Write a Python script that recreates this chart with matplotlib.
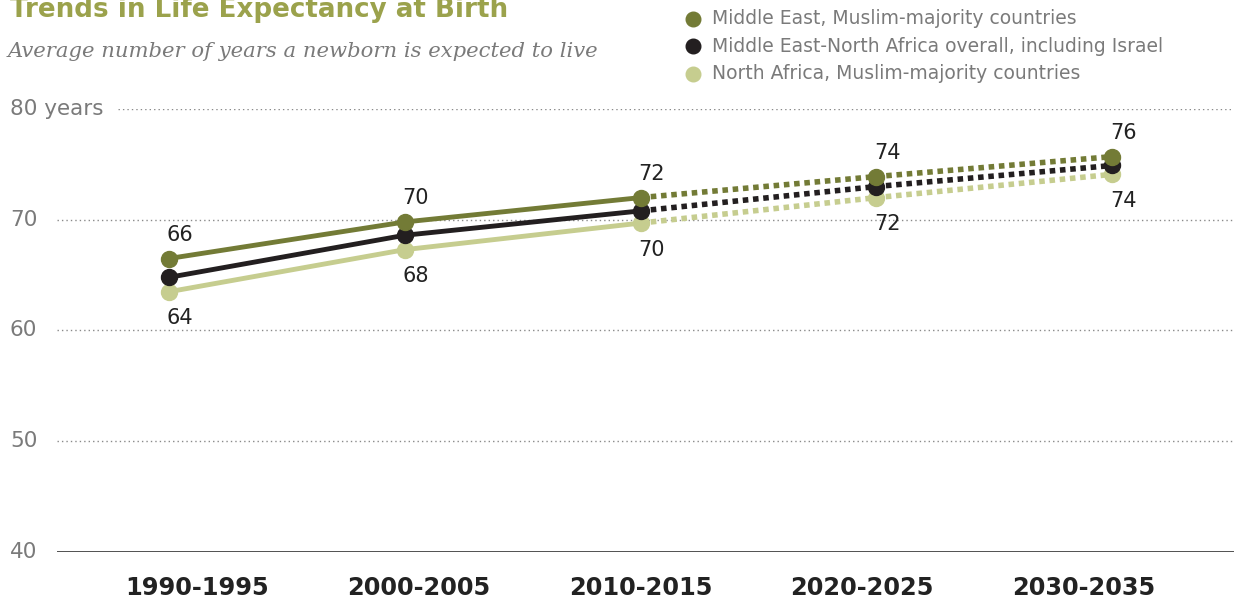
import matplotlib
matplotlib.use("Agg")
import matplotlib.pyplot as plt
from matplotlib.lines import Line2D
from matplotlib.transforms import blended_transform_factory

# data
periods = ["1990-1995", "2000-2005", "2010-2015", "2020-2025", "2030-2035"]
middle_east = [66.5, 69.8, 72.0, 73.9, 75.7]
overall = [64.8, 68.6, 70.8, 73.0, 74.9]
north_africa = [63.5, 67.3, 69.7, 72.0, 74.1]
middle_east_labels = ["66", "70", "72", "74", "76"]
north_africa_labels = ["64", "68", "70", "72", "74"]
legend_names = [
    "Middle East, Muslim-majority countries",
    "Middle East-North Africa overall, including Israel",
    "North Africa, Muslim-majority countries",
]
yticks = [40, 50, 60, 70, 80]
ytick_labels = ["40", "50", "60", "70", "80 years"]

c_me = "#737B36"
c_all = "#231F20"
c_na = "#C6CD8F"
grey = "#7a7a7a"

fig = plt.figure(figsize=(12.39, 6.03), dpi=100)
ax = fig.add_axes([57 / 1239, 51 / 603, 1177 / 1239, 443 / 603])
ax.set_xlim(-0.475, 4.517)
ax.set_ylim(40, 80)

x = list(range(len(periods)))
n_solid = 3  # observed through 2010-2015, projections after

for vals, col, z in [(north_africa, c_na, 3), (overall, c_all, 4), (middle_east, c_me, 5)]:
    ax.plot(x[:n_solid], vals[:n_solid], color=col, lw=3.5, zorder=z,
            solid_capstyle="butt")
    ax.plot(x[n_solid - 1:], vals[n_solid - 1:], color=col, lw=4.0, zorder=z,
            linestyle=(0, (1.0, 0.85)), dash_capstyle="butt")
    ax.plot(x, vals, "o", color=col, markersize=11.5, zorder=z + 0.5)

for xi, v, lab in zip(x, middle_east, middle_east_labels):
    ax.annotate(lab, (xi, v), xytext=(8, 10), textcoords="offset points",
                ha="center", va="bottom", fontsize=15, color="#222222")
for xi, v, lab in zip(x, north_africa, north_africa_labels):
    ax.annotate(lab, (xi, v), xytext=(8, -12), textcoords="offset points",
                ha="center", va="top", fontsize=15, color="#222222")

# gridlines and y labels
trans = blended_transform_factory(fig.transFigure, ax.transData)
for yv in yticks[1:]:
    start = (118 - 57) / 1177 if yv == 80 else 0
    ax.axhline(yv, xmin=start, xmax=1, color="#8a8a8a", lw=1.0,
               linestyle=(0, (1, 2.2)), zorder=1)
for yv, lab in zip(yticks, ytick_labels):
    ax.text(10 / 1239, yv, lab, transform=trans, ha="left", va="center",
            fontsize=15.5, color=grey)

ax.axhline(40, color="#333333", lw=1.2, zorder=2)
for s in ax.spines.values():
    s.set_visible(False)
ax.set_yticks([])
# period labels sit on their own even spacing, not under the points
ax.set_xticks([0.12 + 0.94 * i for i in x])
ax.set_xticklabels(periods, fontsize=17.3, fontweight="bold", color="#222222")
ax.tick_params(axis="x", length=0, pad=17)

# title and subtitle
fig.text(10 / 1239, 1 - 17 / 603, "Trends in Life Expectancy at Birth",
         fontsize=18.8, fontweight="bold", color="#9BA24C", va="baseline")
fig.text(8 / 1239, 1 - 57 / 603,
         "Average number of years a newborn is expected to live",
         fontsize=15.2, style="italic", family="DejaVu Serif", color=grey,
         va="baseline")

# legend
for i, (name, col) in enumerate(zip(legend_names, [c_me, c_all, c_na])):
    yy = 1 - (19 + 27.3 * i) / 603
    fig.add_artist(Line2D([693 / 1239], [yy], marker="o", markersize=10.5,
                          color=col, transform=fig.transFigure))
    fig.text(712 / 1239, yy, name, fontsize=13.5, color=grey, va="center")

fig.savefig("out.png", dpi=100)
